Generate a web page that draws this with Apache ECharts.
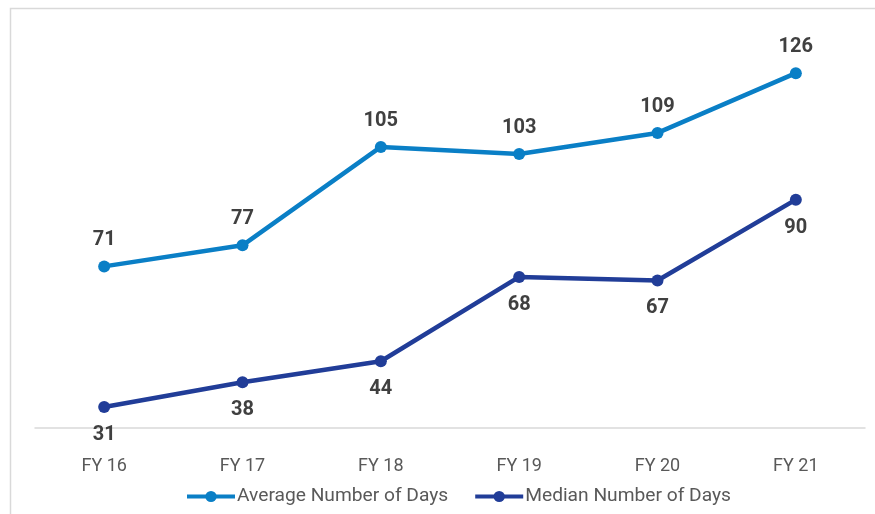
<!DOCTYPE html>
<html><head><meta charset="utf-8">
<script src="https://cdn.jsdelivr.net/npm/echarts@6/dist/echarts.min.js"></script>
<style>html,body{margin:0;padding:0;background:#fff}#c{width:875px;height:514px}</style>
</head><body><div id="c"></div>
<script>
const categories = ['FY 16','FY 17','FY 18','FY 19','FY 20','FY 21'];
const averageDays = [71, 77, 105, 103, 109, 126];
const medianDays = [31, 38, 44, 68, 67, 90];
const seriesNames = ['Average Number of Days', 'Median Number of Days'];

const chart = echarts.init(document.getElementById('c'));
const font = 'Roboto, "Liberation Sans", sans-serif';
chart.setOption({
  animation: false,
  graphic: [{type:'rect', shape:{x:10.5,y:8.5,width:900,height:600}, style:{fill:'none', stroke:'#d9d9d9', lineWidth:1.5}, z:-1}],
  grid: {left: 35, right: 10, top: 24, bottom: 86},
  legend: {
    bottom: 3, left: 180, itemWidth: 48, itemHeight: 14, itemGap: 25,
    lineStyle: {width: 4},
    textStyle: {fontFamily: font, fontSize: 19.2, color: '#595959', padding: [0, 0, 0, -3]},
    data: seriesNames
  },
  xAxis: {
    type: 'category', data: categories, boundaryGap: true,
    axisLine: {lineStyle: {color: '#d9d9d9', width: 1.5}},
    axisTick: {show: false},
    axisLabel: {fontFamily: font, fontSize: 18, color: '#595959', margin: 29}
  },
  yAxis: {type: 'value', min: 25, max: 140, show: false, splitLine: {show: false}},
  series: [
    {name: seriesNames[0], type: 'line', data: averageDays, symbol: 'circle', symbolSize: 12,
     lineStyle: {color: '#0a7fc6', width: 4.5}, itemStyle: {color: '#0a7fc6'},
     label: {show: true, position: 'top', distance: 10, fontFamily: font, fontWeight: 'bold', fontSize: 20, color: '#404040'}},
    {name: seriesNames[1], type: 'line', data: medianDays, symbol: 'circle', symbolSize: 12,
     lineStyle: {color: '#213d98', width: 4.5}, itemStyle: {color: '#213d98'},
     label: {show: true, position: 'bottom', distance: 12, fontFamily: font, fontWeight: 'bold', fontSize: 20, color: '#404040'}}
  ]
});
</script></body></html>
